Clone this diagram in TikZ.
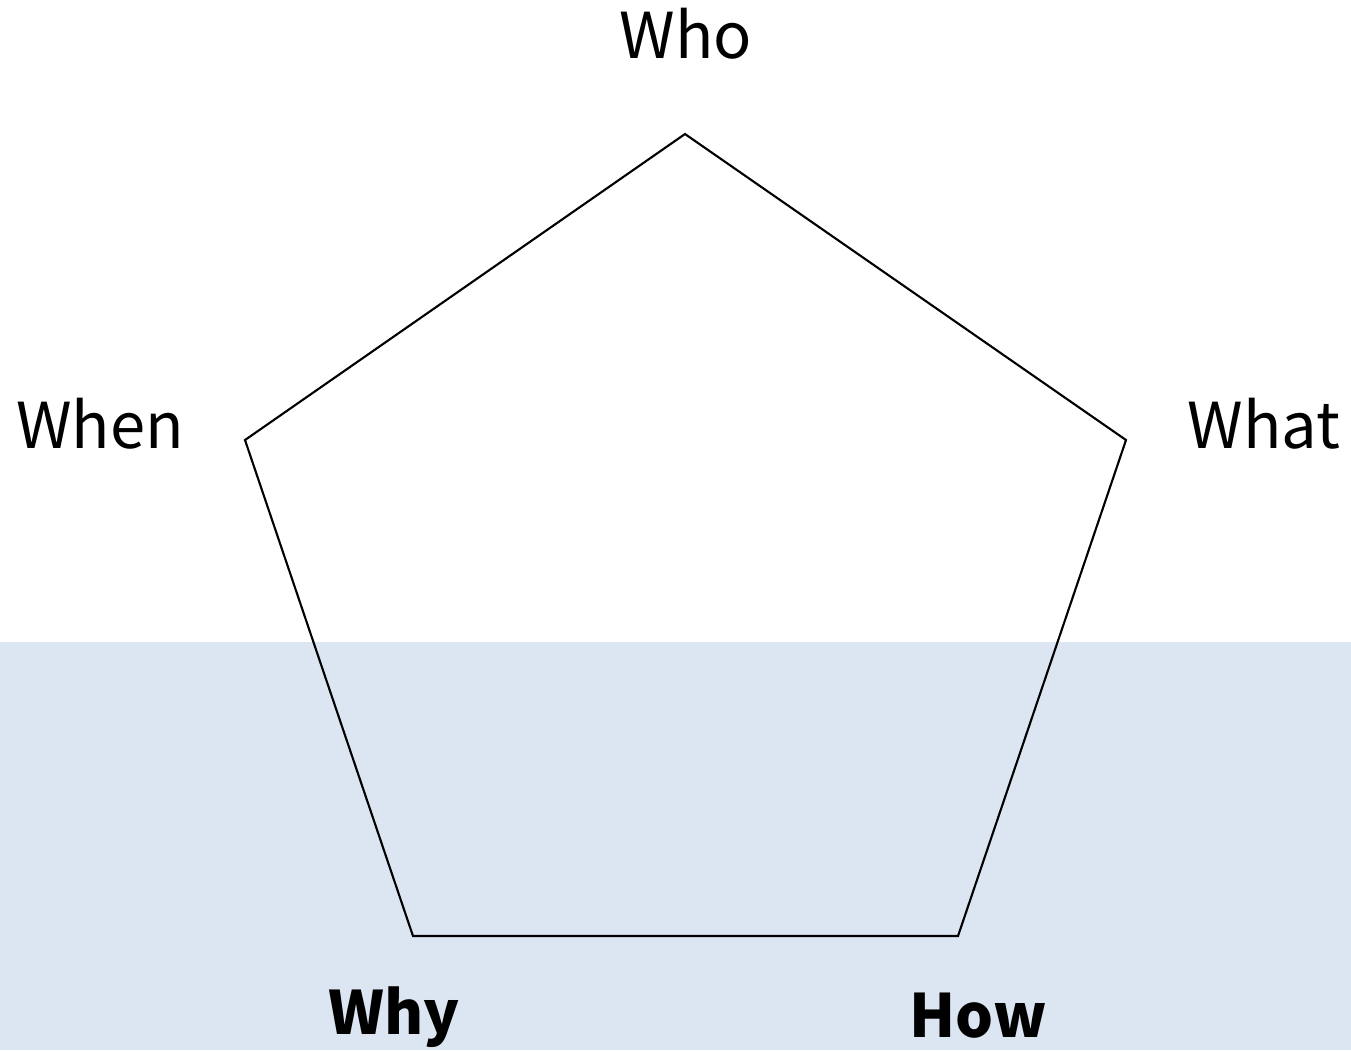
\documentclass[tikz,border=0pt]{standalone}
\usepackage{fontspec}
\setmainfont{Noto Sans CJK JP}
\usetikzlibrary{positioning}
\definecolor{bandblue}{HTML}{DCE5F2}
\definecolor{edgeink}{HTML}{000000}

\begin{document}
\begin{tikzpicture}[
        x=0.01cm, y=-0.01cm,
        label/.style={
            inner sep=0pt,
            anchor=center,
            font=\fontsize{18}{20}\selectfont
        },
        boldlabel/.style={
            label,
            font=\fontsize{17}{19}\selectfont\bfseries
        },
        edge/.style={draw=edgeink, line width=0.6pt, line join=miter}
    ]
        \useasboundingbox (0,0) rectangle (1351,1050);
        \fill[bandblue] (0,642) rectangle (1351,1050);

        \coordinate (top) at (685,134);
        \coordinate (right) at (1126,440);
        \coordinate (lowright) at (958,936);
        \coordinate (lowleft) at (413,936);
        \coordinate (left) at (245,440);
        \draw[edge] (top) -- (right) -- (lowright) -- (lowleft) -- (left) -- cycle;

        \node[label] (who) at (686,34) {Who};
        \node[label] (when) at (100,424) {When};
        \node[label] (what) at (1264,424) {What};
        \node[boldlabel] (why) at (394,1017) {Why};
        \node[boldlabel] (how) at (978,1016) {How};
    \end{tikzpicture}
\end{document}
